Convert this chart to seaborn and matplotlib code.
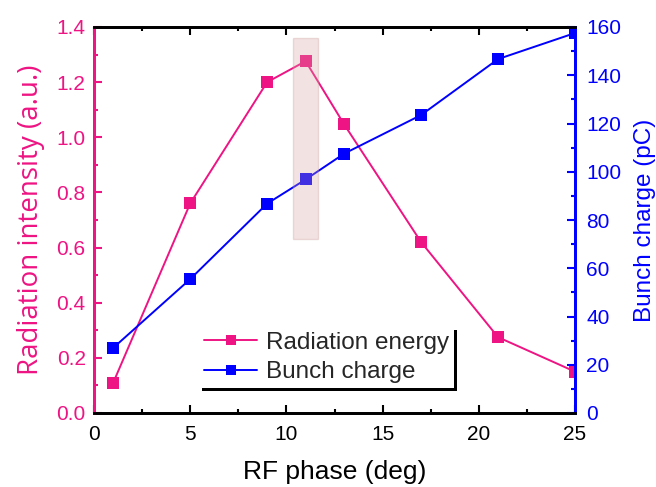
import matplotlib
matplotlib.use("Agg")
import matplotlib.pyplot as plt
import seaborn as sns
import pandas as pd
from matplotlib.ticker import MultipleLocator, FormatStrFormatter
from matplotlib.patches import Rectangle

phase = [1, 5, 9, 11, 13, 17, 21, 25]
radiation = [0.11, 0.76, 1.20, 1.276, 1.047, 0.62, 0.275, 0.15]
charge = [27, 55.5, 86.8, 96.8, 107.5, 123.5, 146.7, 157.5]
highlight = (10.35, 11.65, 0.63, 1.36)

PINK = "#ee1483"
BLUE = "#0000ff"

sns.set_theme(style="white")
plt.rcParams['font.family'] = ['Liberation Sans', 'DejaVu Sans']

df = pd.DataFrame({"phase": phase, "radiation": radiation, "charge": charge})

fig = plt.figure(figsize=(6.56, 4.87), dpi=100)
ax = fig.add_axes([94/656, 1-413/487, 481/656, 386/487])
ax2 = ax.twinx()

sns.lineplot(data=df, x="phase", y="radiation", ax=ax, color=PINK, marker="s",
             markersize=9, markeredgewidth=0, linewidth=1.4, label="Radiation energy", legend=False)
sns.lineplot(data=df, x="phase", y="charge", ax=ax2, color=BLUE, marker="s",
             markersize=9, markeredgewidth=0, linewidth=1.4, label="Bunch charge", legend=False)

ax.set_xlim(0, 25)
ax.set_ylim(0, 1.4)
ax2.set_ylim(0, 160)

ax.xaxis.set_major_locator(MultipleLocator(5))
ax.xaxis.set_minor_locator(MultipleLocator(2.5))
ax.yaxis.set_major_locator(MultipleLocator(0.2))
ax.yaxis.set_minor_locator(MultipleLocator(0.1))
ax.yaxis.set_major_formatter(FormatStrFormatter('%.1f'))
ax2.yaxis.set_major_locator(MultipleLocator(20))
ax2.yaxis.set_minor_locator(MultipleLocator(10))

for a in (ax, ax2):
    for s in a.spines.values():
        s.set_linewidth(2)
        s.set_color("black")
    a.spines['left'].set_color(PINK)
    a.spines['right'].set_color(BLUE)

ax.tick_params(axis='x', which='both', direction='in', top=True, bottom=True,
               labelsize=15, colors='black', width=1.5, pad=9)
ax.tick_params(axis='x', which='major', length=6)
ax.tick_params(axis='x', which='minor', length=3)
ax.tick_params(axis='y', which='both', direction='in', left=True, right=False,
               labelsize=15, colors=PINK, width=1.5, pad=6)
ax.tick_params(axis='y', which='major', length=6)
ax.tick_params(axis='y', which='minor', length=3)
ax2.tick_params(axis='y', which='both', direction='in', right=True, left=False,
                labelsize=15, colors=BLUE, width=1.5, pad=8)
ax2.tick_params(axis='y', which='major', length=6)
ax2.tick_params(axis='y', which='minor', length=3)

ax.set_xlabel("RF phase (deg)", fontsize=19, color="black", labelpad=11)
ax.set_ylabel("Radiation intensity (a.u.)", fontsize=20, color=PINK, labelpad=8,
              family=['Open Sans', 'DejaVu Sans'])
ax2.set_ylabel("Bunch charge (pC)", fontsize=17.5, color=BLUE, labelpad=9)

x0, x1, y0, y1 = highlight
rect = Rectangle((x0, y0), x1 - x0, y1 - y0, facecolor="#d8a0a0", alpha=0.3,
                 edgecolor="#c89090", linewidth=1, zorder=10, transform=ax.transData)
ax2.add_artist(rect)

h1, l1 = ax.get_legend_handles_labels()
h2, l2 = ax2.get_legend_handles_labels()
leg = ax2.legend(h1 + h2, l1 + l2, loc="lower right", bbox_to_anchor=(0.748, 0.065),
                 fontsize=17.5, frameon=True, fancybox=False, edgecolor="white",
                 shadow={'color': 'black', 'alpha': 1}, handlelength=2.2,
                 borderpad=0.2, labelspacing=0.3, handletextpad=0.35, borderaxespad=0)
leg.get_frame().set_linewidth(0)
for hl in leg.legend_handles:
    hl.set_markersize(7)

fig.savefig("out.png", dpi=100)
